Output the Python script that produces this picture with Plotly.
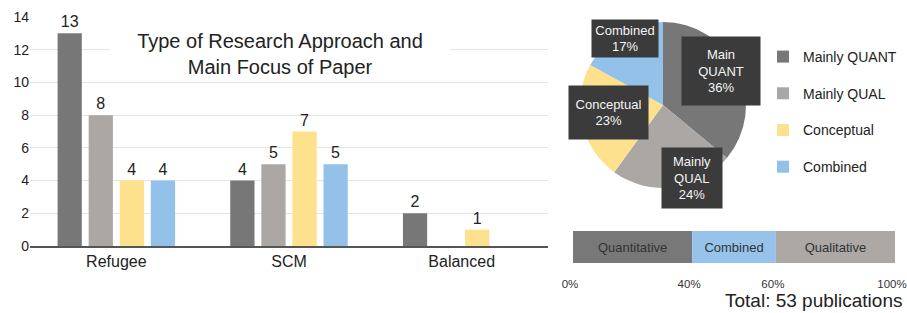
import plotly.graph_objects as go

W, H = 907, 313
FONT = "Liberation Sans, Arial, Helvetica, sans-serif"

# ---------------- data ----------------
categories = ["Refugee", "SCM", "Balanced"]
series_names = ["Mainly QUANT", "Mainly QUAL", "Conceptual", "Combined"]
mainly_quant = [13, 4, 2]
mainly_qual = [8, 5, 0]
conceptual = [4, 7, 1]
combined = [4, 5, 0]
y_tick_vals = [0, 2, 4, 6, 8, 10, 12, 14]

chart_title = "Type of Research Approach and<br>Main Focus of Paper"

pie_labels = ["Mainly QUANT", "Mainly QUAL", "Conceptual", "Combined"]
pie_values = [36, 24, 23, 17]
pie_box_texts = ["Main<br>QUANT<br>36%", "Mainly<br>QUAL<br>24%",
                 "Conceptual<br>23%", "Combined<br>17%"]

split_labels = ["Quantitative", "Combined", "Qualitative"]
split_values = [37, 26, 37]
split_tick_text = ["0%", "40%", "60%", "100%"]
total_text = "Total: 53 publications"

# ---------------- styles ----------------
colors = ["#777777", "#aaa7a4", "#fde18c", "#94c1e9"]
split_colors = ["#787878", "#97c3ea", "#aba8a6"]
BOX = "#3b3b3b"


def px_x(px):
    return px / W


def px_y(py):
    return 1 - py / H


fig = go.Figure()

series = [mainly_quant, mainly_qual, conceptual, combined]
for name, vals, col in zip(series_names, series, colors):
    fig.add_trace(go.Bar(
        x=categories, y=vals, name=name, marker=dict(color=col, line=dict(width=0)),
        text=[str(v) if v else "" for v in vals], textposition="outside",
        textfont=dict(size=16, color="#222", family=FONT), cliponaxis=False,
        legendgroup=name, xaxis="x", yaxis="y", showlegend=True,
    ))

fig.add_trace(go.Pie(
    labels=pie_labels, values=pie_values, sort=False, direction="clockwise",
    rotation=0, marker=dict(colors=colors, line=dict(width=0)),
    textinfo="none", showlegend=False,
    domain=dict(x=[px_x(580), px_x(746)], y=[px_y(188), px_y(22)]),
))

# stacked split bar
bases = [sum(split_values[:i]) for i in range(len(split_values))]
fig.add_trace(go.Bar(
    x=split_values, y=[0] * len(split_values), base=bases, orientation="h",
    width=1, marker=dict(color=split_colors, line=dict(width=0)),
    text=split_labels, textposition="inside", insidetextanchor="middle",
    textangle=0, textfont=dict(size=13, color="#333", family=FONT),
    xaxis="x3", yaxis="y3", showlegend=False,
))

boundaries = [0] + [sum(split_values[:i + 1]) for i in range(len(split_values))]

annotations = [
    dict(text=chart_title, x=px_x(280), y=px_y(54), xref="paper", yref="paper",
         xanchor="center", yanchor="middle",
         showarrow=False, font=dict(size=20, color="#222", family=FONT),
         bgcolor="white", width=340, height=48, borderpad=0, align="center"),
    dict(text=total_text, x=px_x(904), y=px_y(300), xref="paper", yref="paper",
         xanchor="right", yanchor="middle", showarrow=False,
         font=dict(size=19, color="#222", family=FONT)),
]

box_pos = [(721, 71, 78, 68), (692, 178, 60, 60), (608.5, 112, 79, 53), (625, 38.5, 66, 37)]
for txt, (cx, cy, bw, bh) in zip(pie_box_texts, box_pos):
    annotations.append(dict(
        text=txt, x=px_x(cx), y=px_y(cy), xref="paper", yref="paper",
        xanchor="center", yanchor="middle",
        showarrow=False, bgcolor=BOX, width=bw, height=bh, borderpad=0,
        font=dict(size=13, color="#f4f4f4", family=FONT), align="center"))

fig.update_layout(
    template="none",
    width=W, height=H, margin=dict(l=0, r=0, t=0, b=0, autoexpand=False),
    paper_bgcolor="white", plot_bgcolor="white",
    font=dict(family=FONT, color="#222"),
    barmode="group", bargap=0.28, bargroupgap=0.22,
    xaxis=dict(domain=[px_x(30), px_x(548)], anchor="y", showline=True,
               linecolor="#555", linewidth=1.5, ticks="", showgrid=False,
               automargin=False, tickfont=dict(size=16, color="#222")),
    yaxis=dict(domain=[px_y(246), px_y(17)], anchor="x", range=[0, 14],
               tickvals=y_tick_vals, showgrid=True, gridcolor="#e4e4e4",
               gridwidth=1, zeroline=False, showline=False, ticks="",
               automargin=False, tickfont=dict(size=14, color="#222")),
    xaxis3=dict(domain=[px_x(573), px_x(895)], anchor="y3", range=[0, 100],
                tickvals=boundaries, ticktext=split_tick_text, showgrid=False,
                zeroline=False, showline=False, ticks="", ticklabelstandoff=12,
                ticklabelshift=-3, ticklabeloverflow="allow",
                automargin=False, tickfont=dict(size=11.5, color="#333")),
    yaxis3=dict(domain=[px_y(263), px_y(231)], anchor="x3", range=[-0.5, 0.5],
                showticklabels=False, showgrid=False, zeroline=False,
                automargin=False),
    legend=dict(x=px_x(763), y=px_y(41), xanchor="left", yanchor="top",
                font=dict(size=14, color="#222", family=FONT),
                tracegroupgap=15.5, traceorder="grouped", bgcolor="rgba(0,0,0,0)"),
    annotations=annotations,
)

fig.write_html("out.html", config={"displayModeBar": False},
               post_script="document.body.style.margin='0px';")
